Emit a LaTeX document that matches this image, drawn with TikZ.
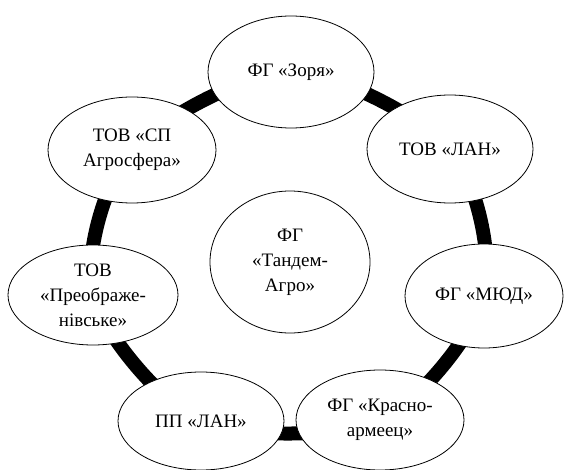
\documentclass[tikz,border=0pt]{standalone}
\usepackage{fontspec}
\setmainfont{Liberation Serif}
\usetikzlibrary{shapes.geometric,backgrounds}

\begin{document}
\begin{tikzpicture}[x=1pt, y=-1pt,
    firm/.style={ellipse, draw, fill=white, line width=0.8pt, inner sep=0pt, align=center,
        font=\fontsize{19}{25}\selectfont}]
    \useasboundingbox (0,0) rectangle (564,470);

    % Firms
    \node[firm, minimum width=166, minimum height=112] (zorya) at (291,72) {ФГ «Зоря»};
    \node[firm, minimum width=166, minimum height=108] (lan) at (450,149) {ТОВ «ЛАН»};
    \node[firm, minimum width=158, minimum height=104] (myud) at (484,296) {ФГ «МЮД»};
    \node[firm, minimum width=168, minimum height=100] (krasno) at (380,420) {ФГ «Красно-\\армеец»};
    \node[firm, minimum width=166, minimum height=98] (pplan) at (201,421) {ПП «ЛАН»};
    \node[firm, minimum width=170, minimum height=100] (preobr) at (93,295) {ТОВ\\«Преображе-\\нівське»};
    \node[firm, minimum width=168, minimum height=106] (agro) at (132,150) {ТОВ «СП\\Агросфера»};

    % Centre
    \node[firm, minimum width=160, minimum height=142] (tandem) at (290,262) {ФГ\\«Тандем-\\Агро»};

    % Ring
    \begin{scope}[on background layer]
        \draw[line width=14pt] plot[smooth cycle] coordinates {(zorya.center) (lan.center) (myud.center)
            (krasno.center) (pplan.center) (preobr.center) (agro.center)};
    \end{scope}
\end{tikzpicture}
\end{document}
